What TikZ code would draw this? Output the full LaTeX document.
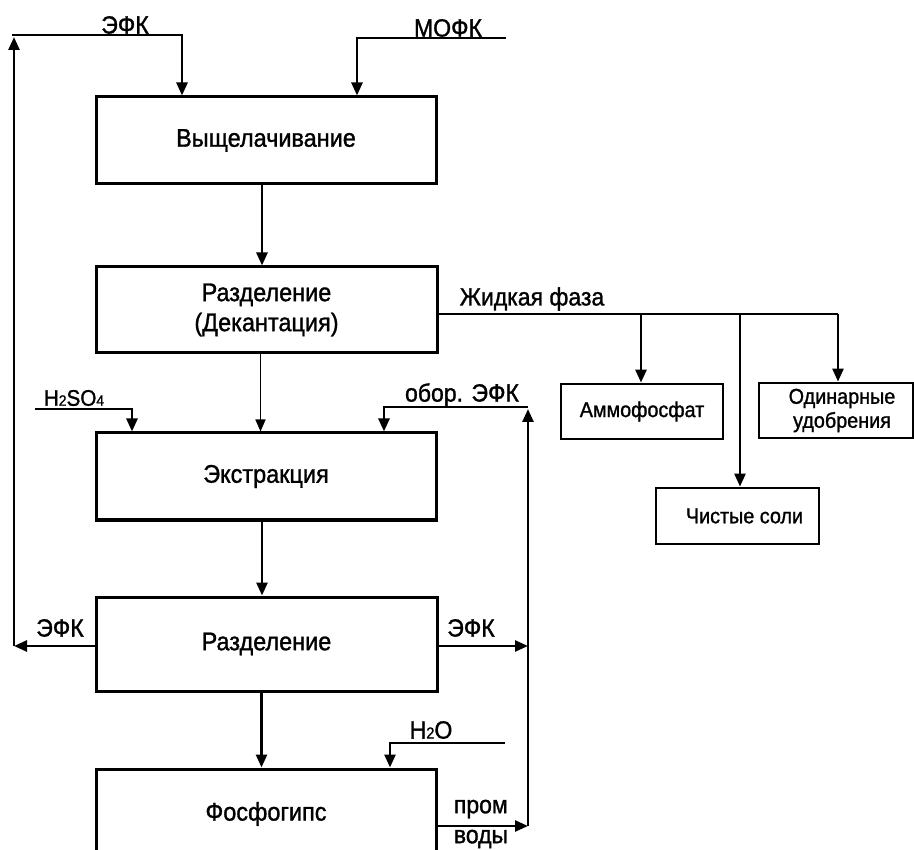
\documentclass[tikz,border=0pt]{standalone}
\usepackage{fontspec}
\setmainfont{Liberation Sans}[FakeBold=1.2,FakeStretch=0.92]
\usetikzlibrary{arrows.meta}
\begin{document}
\begin{tikzpicture}[x=1pt,y=-1pt,
  box/.style={draw,line width=3pt,rectangle,inner sep=0pt,align=center,font=\fontsize{25.5}{30}\selectfont},
  sbox/.style={draw,line width=2.8pt,rectangle,inner sep=0pt,align=center,font=\fontsize{21.5}{24}\selectfont},
  conn/.style={line width=2.6pt},
  arr/.style={conn,-{Triangle[length=13pt,width=11pt]}},
  thinarr/.style={line width=1.6pt,-{Triangle[length=12pt,width=10pt]}},
  lbl/.style={font=\fontsize{25}{30}\selectfont,inner sep=0pt},
]
\useasboundingbox (0,0) rectangle (914,850);
\clip (0,0) rectangle (914,850);

% main column boxes
\node[box,minimum width=340pt,minimum height=87pt] (b1) at (266,140.5) {Выщелачивание};
\node[box,minimum width=341pt,minimum height=86pt] (b2) at (266.5,310) {Разделение\\(Декантация)};
\node[box,minimum width=340pt,minimum height=87pt] (b3) at (266,476.5) {Экстракция};
\node[box,minimum width=341pt,minimum height=94pt] (b4) at (266.5,644) {Разделение};
\node[box,minimum width=340pt,minimum height=90pt] (b5) at (266,814) {Фосфогипс};

% product boxes
\node[sbox,minimum width=162pt,minimum height=55pt] (amm) at (642,411.5) {Аммофосфат};
\node[sbox,minimum width=154pt,minimum height=55pt] (odin) at (836,410.5) {\hspace*{12pt}Одинарные\\\hspace*{12pt}удобрения};
\node[sbox,minimum width=163pt,minimum height=56pt] (chist) at (737.5,516) {\hspace*{14pt}Чистые соли};

% labels
\node[lbl] (lefkTop) at (125,25) {ЭФК};
\node[lbl] (lmofk) at (448,28) {МОФК};
\node[lbl] (lzh) at (532,299) {Жидкая фаза};
\node[lbl,font=\fontsize{22.5}{24}\selectfont] (lh2so4) at (74,398) {H{\fontsize{15}{15}\selectfont 2}SO{\fontsize{15}{15}\selectfont 4}};
\node[lbl] (lobor) at (462,395) {обор. ЭФК};
\node[lbl] (lefkL) at (60,628) {ЭФК};
\node[lbl] (lefkR) at (471,628) {ЭФК};
\node[lbl] (lh2o) at (431,730) {H{\fontsize{16}{16}\selectfont 2}O};
\node[lbl,align=left] (lprom) at (481,824) {пром\\воды};

% coordinates
\coordinate (leftTop) at (12,35);
\coordinate (efkCorner) at (182,35);
\coordinate (leftTip) at (14,37);
\coordinate (leftBot) at (14,646);
\coordinate (mofkStart) at (506,38);
\coordinate (mofkCorner) at (357,38);
\coordinate (zhEnd) at (838,314);
\coordinate (brA) at (641,314);
\coordinate (brC) at (740,314);
\coordinate (hsStart) at (35,409);
\coordinate (hsCorner) at (132,409);
\coordinate (rvTop) at (528,407);
\coordinate (rvTip) at (528,409);
\coordinate (rvBot) at (528,826);
\coordinate (oborCorner) at (384,407);
\coordinate (h2oStart) at (505,743);
\coordinate (h2oCorner) at (390,743);

% top inputs
\draw[arr] (leftTop) -- (efkCorner) -- (efkCorner |- b1.north);
\draw[arr] (mofkStart) -- (mofkCorner) -- (mofkCorner |- b1.north);

% main flow
\draw[arr] ([xshift=-4pt]b1.south) -- ([xshift=-4pt]b1.south |- b2.north);
\draw[thinarr] ([xshift=-6pt]b2.south) -- ([xshift=-6pt]b2.south |- b3.north);
\draw[arr] ([xshift=-4pt]b3.south) -- ([xshift=-4pt]b3.south |- b4.north);
\draw[arr] ([xshift=-5pt]b4.south) -- ([xshift=-5pt]b4.south |- b5.north);

% liquid phase branches
\draw[conn] (b2.east |- zhEnd) -- (zhEnd);
\draw[arr] (brA) -- (brA |- amm.north);
\draw[arr] (brC) -- (brC |- chist.north);
\draw[arr] (zhEnd) -- (zhEnd |- odin.north);

% extraction inputs
\draw[arr] (hsStart) -- (hsCorner) -- (hsCorner |- b3.north);
\draw[arr] (rvTop) -- (oborCorner) -- (oborCorner |- b3.north);

% recycle loops
\draw[arr] (b4.west |- leftBot) -- (leftBot);
\draw[arr] (leftBot) -- (leftTip);
\draw[arr] (b4.east |- leftBot) -- (leftBot -| rvBot);
\draw[arr] (rvBot) -- (rvTip);
\draw[arr] (b5.east |- rvBot) -- (rvBot);

% water
\draw[arr] (h2oStart) -- (h2oCorner) -- (h2oCorner |- b5.north);
\end{tikzpicture}
\end{document}
